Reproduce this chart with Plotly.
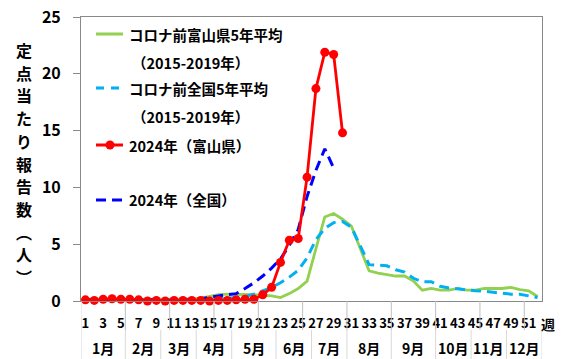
import plotly.graph_objects as go

weeks = list(range(1, 53))

toyama_avg = [0.15, 0.1, 0.15, 0.15, 0.1, 0.15, 0.1, 0.1, 0.1, 0.1, 0.1, 0.1, 0.15,
              0.25, 0.4, 0.55, 0.6, 0.6, 0.6, 0.55, 0.5, 0.45, 0.3, 0.65, 1.1, 1.75,
              4.6, 7.4, 7.7, 7.2, 6.6, 4.7, 2.65, 2.45, 2.3, 2.2, 2.2, 1.75, 0.95,
              1.1, 0.95, 0.95, 1.1, 0.95, 0.95, 1.1, 1.1, 1.1, 1.2, 1.0, 0.9, 0.4]

national_avg = [0.1, 0.1, 0.1, 0.1, 0.1, 0.1, 0.1, 0.1, 0.1, 0.1, 0.1, 0.1, 0.1,
                0.15, 0.2, 0.2, 0.25, 0.3, 0.4, 0.6, 0.9, 1.2, 1.6, 2.1, 2.7, 3.8,
                5.4, 6.4, 6.9, 7.0, 6.5, 4.8, 3.2, 3.15, 3.1, 2.75, 2.55, 2.0, 1.7,
                1.7, 1.3, 1.15, 1.05, 1.0, 0.9, 0.85, 0.75, 0.7, 0.6, 0.6, 0.45, 0.3]

weeks_2024_toyama = list(range(1, 31))
toyama_2024 = [0.1, 0.05, 0.15, 0.2, 0.15, 0.15, 0.1, 0.0, 0.05, 0.0, 0.05, 0.05, 0.05,
               0.05, 0.0, 0.05, 0.05, 0.1, 0.15, 0.15, 0.55, 1.2, 3.4, 5.35, 5.5, 10.9,
               18.7, 21.9, 21.7, 14.8]

weeks_2024_national = list(range(1, 30))
national_2024 = [0.1, 0.1, 0.15, 0.15, 0.15, 0.1, 0.1, 0.1, 0.1, 0.05, 0.05, 0.1, 0.1,
                 0.2, 0.35, 0.45, 0.55, 0.65, 1.1, 1.6, 2.2, 2.9, 3.7, 4.9, 6.3, 9.2,
                 11.5, 13.4, 11.7]

tick_weeks = list(range(1, 52, 2))
tick_labels = [str(w) for w in tick_weeks]
y_ticks = [0, 5, 10, 15, 20, 25]

months = ["1月", "2月", "3月", "4月", "5月", "6月", "7月", "8月", "9月", "10月", "11月", "12月"]
month_bounds = [0.5, 5.5, 9.5, 13.5, 17.5, 22.5, 26.5, 30.5, 35.5, 40.5, 44.5, 48.5, 52.5]
five_week_ticks = [5.5, 10.5, 15.5, 20.5, 25.5, 30.5, 35.5, 40.5, 45.5, 50.5]

legend_names = ["コロナ前富山県5年平均<br>（2015-2019年）",
                "コロナ前全国5年平均<br>（2015-2019年）",
                "2024年（富山県）",
                "2024年（全国）"]

y_title_chars = list("定点当たり報告数") + ["︵", "人", "︶"]

FONT = "Noto Sans CJK JP"
GREEN = "#92D050"
LBLUE = "#00B0F0"
RED = "#FF0000"
BLUE = "#0000FF"

W, H = 565, 359
L, R, T, B = 81, 23, 17, 58
PW, PH = W - L - R, H - T - B


def px(X):
    return (X - L) / PW


def py(Y):
    return (H - B - Y) / PH


fig = go.Figure()
fig.add_trace(go.Scatter(x=weeks, y=toyama_avg, mode="lines",
                         line=dict(color=GREEN, width=2.8), cliponaxis=False))
fig.add_trace(go.Scatter(x=weeks, y=national_avg, mode="lines",
                         line=dict(color=LBLUE, width=3, dash="10px,6px"), cliponaxis=False))
fig.add_trace(go.Scatter(x=weeks_2024_national, y=national_2024, mode="lines",
                         line=dict(color=BLUE, width=3, dash="10px,6px"), cliponaxis=False))
fig.add_trace(go.Scatter(x=weeks_2024_toyama, y=toyama_2024, mode="lines+markers",
                         line=dict(color=RED, width=2.8),
                         marker=dict(color=RED, size=9), cliponaxis=False))

shapes = []
annotations = []

# 5-week tick marks under the axis
for t in five_week_ticks:
    shapes.append(dict(type="line", xref="x", yref="paper", x0=t, x1=t,
                       y0=0, y1=py(330), line=dict(color="#BFBFBF", width=1)))
# month separators
for b in month_bounds:
    shapes.append(dict(type="line", xref="x", yref="paper", x0=b, x1=b,
                       y0=py(330), y1=py(359), line=dict(color="#D9D9D9", width=1)))
shapes.append(dict(type="line", xref="x", yref="paper", x0=0.5, x1=0.5,
                   y0=0, y1=py(330), line=dict(color="#D9D9D9", width=1)))

for i, m in enumerate(months):
    annotations.append(dict(x=(month_bounds[i] + month_bounds[i + 1]) / 2, xref="x",
                            y=py(348), yref="paper", text=m, showarrow=False,
                            font=dict(family=FONT, size=14, color="black", weight="bold"),
                            xanchor="center", yanchor="middle"))

annotations.append(dict(x=px(548), y=py(324), xref="paper", yref="paper", text="週",
                        showarrow=False, xanchor="center", yanchor="middle",
                        font=dict(family=FONT, size=14, color="black", weight="bold")))

# vertical y-axis title, one character per line
n = len(y_title_chars)
for i, ch in enumerate(y_title_chars):
    Y = 50 + i * (277 - 50) / (n - 1)
    annotations.append(dict(x=px(24), y=py(Y), xref="paper", yref="paper", text=ch,
                            showarrow=False, xanchor="center", yanchor="middle",
                            font=dict(family=FONT, size=16, color="black", weight="bold")))

# manual legend
leg_y = [34, 88, 145, 200]
leg_colors = [GREEN, LBLUE, RED, BLUE]
leg_dash = ["solid", "8px,7px", "solid", "10px,6px"]
for i in range(4):
    shapes.append(dict(type="line", xref="paper", yref="paper", x0=px(96), x1=px(123),
                       y0=py(leg_y[i]), y1=py(leg_y[i]),
                       line=dict(color=leg_colors[i], width=3, dash=leg_dash[i])))
shapes.append(dict(type="circle", xref="paper", yref="paper",
                   x0=px(105.5), x1=px(114.5), y0=py(140.5), y1=py(149.5),
                   fillcolor=RED, line=dict(color=RED, width=0)))
for i, name in enumerate(legend_names):
    parts = name.split("<br>")
    annotations.append(dict(x=px(127), y=py(leg_y[i]), xref="paper", yref="paper",
                            text=parts[0], showarrow=False, xanchor="left", yanchor="middle",
                            font=dict(family=FONT, size=14.5, color="black", weight="bold")))
    if len(parts) > 1:
        annotations.append(dict(x=px(130), y=py(leg_y[i] + 28), xref="paper", yref="paper",
                                text=parts[1], showarrow=False, xanchor="left", yanchor="middle",
                                font=dict(family=FONT, size=14.5, color="black", weight="bold")))

fig.update_layout(
    width=W, height=H, margin=dict(l=L, r=R, t=T, b=B, autoexpand=False),
    paper_bgcolor="white", plot_bgcolor="white", showlegend=False,
    xaxis=dict(range=[0.5, 52.5], tickmode="array", tickvals=tick_weeks, ticktext=tick_labels,
               ticks="", showgrid=False, zeroline=False, showline=True, linecolor="#898989",
               linewidth=1, mirror=True, ticklabelstandoff=10, automargin=False,
               tickfont=dict(family=FONT, size=13, color="black", weight="bold")),
    yaxis=dict(range=[0, 25], tickmode="array", tickvals=y_ticks, ticks="outside",
               ticklen=7, tickcolor="#898989", showgrid=False, zeroline=False,
               showline=True, linecolor="#898989", linewidth=1, mirror=True,
               ticklabelstandoff=9, automargin=False,
               tickfont=dict(family=FONT, size=16, color="black", weight="bold")),
    shapes=shapes, annotations=annotations,
)

fig.write_html("out.html", config={"displayModeBar": False},
               post_script="document.body.style.margin='0px';document.body.style.padding='0px';")
